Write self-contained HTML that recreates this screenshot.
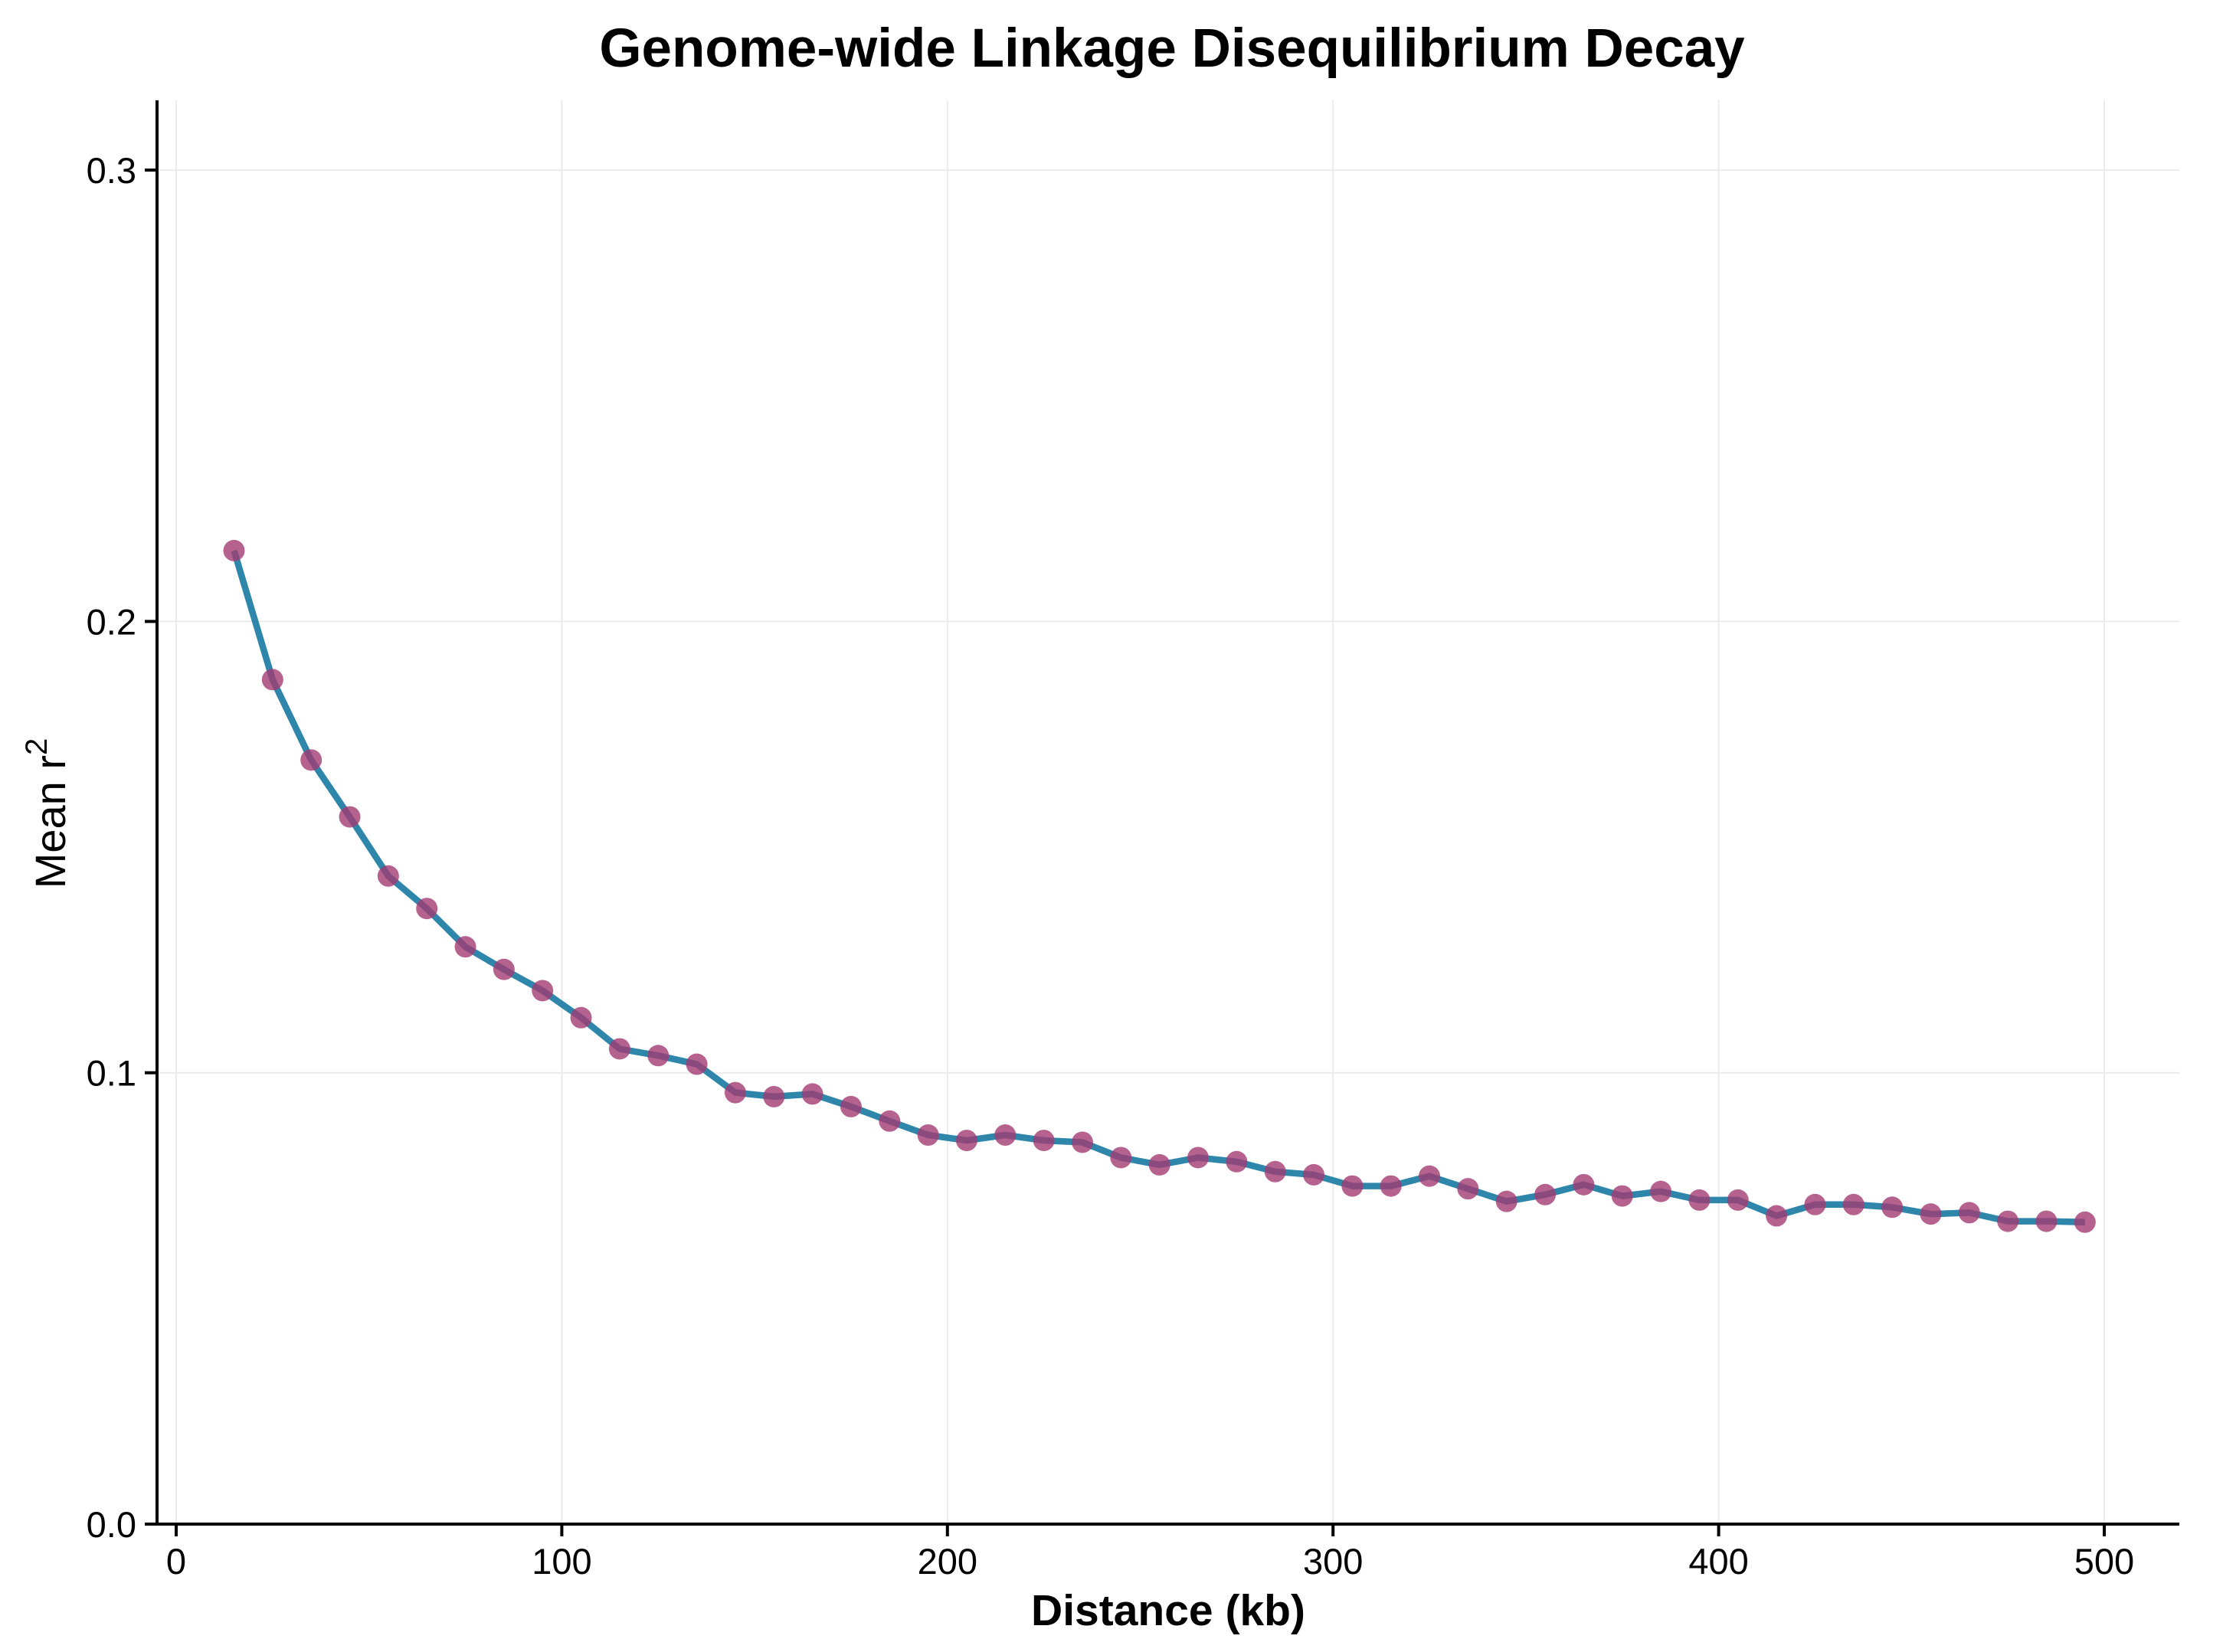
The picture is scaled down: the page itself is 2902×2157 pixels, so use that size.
<!DOCTYPE html>
<html><head><meta charset="utf-8"><style>
html,body{margin:0;padding:0;background:#fff;}
svg{display:block;font-family:"Liberation Sans",Arial,sans-serif;}
</style></head><body>
<svg id="chart" width="2902" height="2157" viewBox="0 0 2902 2157">
<text x="1530" y="87" text-anchor="middle" font-size="71" font-weight="bold" fill="#000">Genome-wide Linkage Disequilibrium Decay</text>
<g id="grid"></g>
<g id="axes"></g>
<g id="series"></g>
<text x="1525" y="2122" text-anchor="middle" font-size="57" font-weight="bold" fill="#000">Distance (kb)</text>
<text transform="translate(85,1062) rotate(-90)" text-anchor="middle" font-size="56" fill="#000">Mean r<tspan dy="-24" font-size="40">2</tspan></text>
</svg>
<script>
const distances = [15,25,35,45,55,65,75,85,95,105,115,125,135,145,155,165,175,185,195,205,215,225,235,245,255,265,275,285,295,305,315,325,335,345,355,365,375,385,395,405,415,425,435,445,455,465,475,485,495];
const meanR2 = [0.2157,0.1871,0.1693,0.1567,0.1436,0.1364,0.1279,0.1229,0.1182,0.1122,0.1053,0.1038,0.1019,0.0956,0.0947,0.0953,0.0925,0.0893,0.0862,0.0850,0.0862,0.0850,0.0846,0.0812,0.0796,0.0812,0.0803,0.0781,0.0774,0.0749,0.0749,0.0771,0.0743,0.0715,0.0730,0.0752,0.0727,0.0737,0.0718,0.0718,0.0683,0.0708,0.0708,0.0702,0.0687,0.0690,0.0671,0.0671,0.0669];
const xTicks = [0,100,200,300,400,500];
const yTicks = [0.0,0.1,0.2,0.3];
const yTickLabels = ["0.0","0.1","0.2","0.3"];

const NS = "http://www.w3.org/2000/svg";
const X0 = 230, XPX = 5.034;
const Y0 = 1990, YPX = 5893;
function sx(v){ return X0 + v*XPX; }
function sy(v){ return Y0 - v*YPX; }
function mk(tag, attrs, parent){
  const e = document.createElementNS(NS, tag);
  for (const k in attrs) e.setAttribute(k, attrs[k]);
  parent.appendChild(e);
  return e;
}
const gridG = document.getElementById('grid');
const axesG = document.getElementById('axes');
const seriesG = document.getElementById('series');
const plotLeft = 205, plotRight = 2845, plotTop = 131;

xTicks.forEach(t => {
  const g = mk('line', {x1:sx(t), x2:sx(t), y1:plotTop, y2:Y0, stroke:'#ebebeb', 'stroke-width':2}, gridG);
  
  
});
yTicks.forEach(t => {
  const g = mk('line', {x1:plotLeft, x2:plotRight, y1:sy(t), y2:sy(t), stroke:'#ebebeb', 'stroke-width':2}, gridG);
  
  
});

const ya = mk('line', {x1:plotLeft, x2:plotLeft, y1:plotTop, y2:Y0+2, stroke:'#000', 'stroke-width':4}, axesG);


const xa = mk('line', {x1:plotLeft-2, x2:plotRight, y1:Y0, y2:Y0, stroke:'#000', 'stroke-width':4}, axesG);



xTicks.forEach(t => {
  const tk = mk('line', {x1:sx(t), x2:sx(t), y1:Y0, y2:Y0+16, stroke:'#000', 'stroke-width':4}, axesG);
  
  
  const lb = mk('text', {x:sx(t), y:2055, 'text-anchor':'middle', 'font-size':47, fill:'#000'}, axesG);
  lb.textContent = String(t);
  
  
});
yTicks.forEach((t,i) => {
  const tk = mk('line', {x1:plotLeft-16, x2:plotLeft, y1:sy(t), y2:sy(t), stroke:'#000', 'stroke-width':4}, axesG);
  
  
  const lb = mk('text', {x:178, y:sy(t)+17, 'text-anchor':'end', 'font-size':47, fill:'#000'}, axesG);
  lb.textContent = yTickLabels[i];
  
  
});

const pts = distances.map((d,i) => sx(d).toFixed(1) + ',' + sy(meanR2[i]).toFixed(1)).join(' ');
const line = mk('polyline', {points:pts, fill:'none', stroke:'#2E86AB', 'stroke-width':8.5, 'stroke-linejoin':'round'}, seriesG);


distances.forEach((d,i) => {
  const c = mk('circle', {cx:sx(d), cy:sy(meanR2[i]), r:14, fill:'#A23B72', 'fill-opacity':0.8}, seriesG);
  
  
});
</script>
</body></html>
